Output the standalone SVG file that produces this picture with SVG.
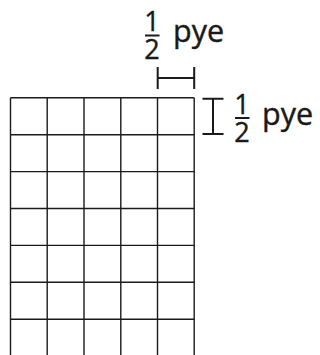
<svg xmlns="http://www.w3.org/2000/svg" width="320" height="355" viewBox="0 0 320 355">
<style>
.grid{stroke:#1a1a1a;stroke-width:1.4;fill:none}
.dim{stroke:#1a1a1a;stroke-width:2;fill:none}
.frac{font-family:"Open Sans","Noto Sans",sans-serif;font-size:27px;fill:#1a1a1a;text-anchor:middle;stroke:#1a1a1a;stroke-width:0.4}
.unit{font-family:"Open Sans","Noto Sans",sans-serif;font-size:30.5px;fill:#1a1a1a;stroke:#1a1a1a;stroke-width:0.4}
</style>
<rect width="320" height="355" fill="#fff"/>
<g id="grid" class="grid">
<path d="M10.5 97.8V355M47.2 97.8V355M84 97.8V355M120.8 97.8V355M157.5 97.8V355M194.2 97.8V355"/>
<path d="M10.5 97.8H194.2M10.5 134.7H194.2M10.5 171.6H194.2M10.5 208.5H194.2M10.5 245.4H194.2M10.5 282.3H194.2M10.5 319.2H194.2"/>
</g>
<g id="connectors" class="dim">
<path d="M157.7 67V89M194.2 67V89M157.7 78H194.2"/>
<path d="M202.5 98.8H223.5M202.5 134H223.5M213 98.8V134"/>
</g>
<g id="label-top">
<text class="frac" x="152" y="31">1</text>
<line x1="145" y1="35.5" x2="159.5" y2="35.5" class="dim" stroke-width="1.8"/>
<text class="frac" x="152" y="59">2</text>
<text class="unit" x="173" y="42">pye</text>
</g>
<g id="label-right">
<text class="frac" x="242" y="113.5">1</text>
<line x1="235" y1="118" x2="249.5" y2="118" class="dim" stroke-width="1.8"/>
<text class="frac" x="242" y="141.5">2</text>
<text class="unit" x="262" y="124.5">pye</text>
</g>
</svg>
